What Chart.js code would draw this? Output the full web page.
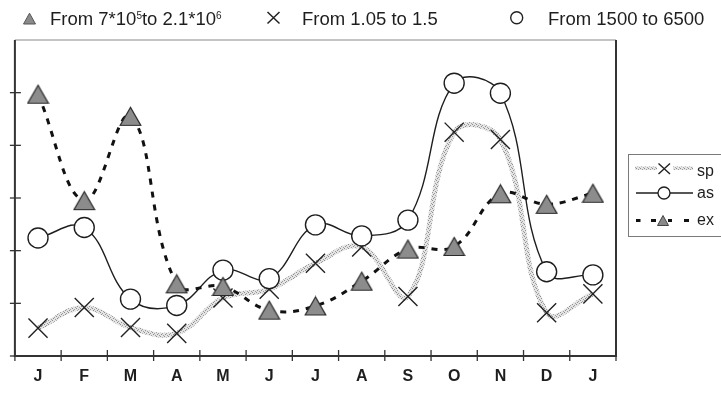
<!DOCTYPE html>
<html>
<head>
<meta charset="utf-8">
<script src="https://cdn.jsdelivr.net/npm/chart.js@4.4.1/dist/chart.umd.min.js"></script>
<style>
  html, body { margin: 0; padding: 0; background: #fff; }
  #wrap { position: relative; width: 721px; height: 396px; overflow: hidden;
          font-family: "Liberation Sans", Arial, sans-serif; color: #1e1e1e; }
  #chart { position: absolute; left: 0; top: 0; }
  #marks { position: absolute; left: 0; top: 0; pointer-events: none; }
  .key { position: absolute; top: 9px; height: 20px; line-height: 20px; font-size: 18.5px; white-space: nowrap; }
  .key sup { font-size: 10px; vertical-align: 6px; line-height: 0; }
  #side { position: absolute; left: 628px; top: 154px; width: 96px; height: 83px;
          border: 1.5px solid #7a7a7a; box-sizing: border-box; }
  .lab { position: absolute; left: 697px; font-size: 16px; line-height: 18px; white-space: nowrap; }
</style>
</head>
<body>
<div id="wrap">
  <canvas id="chart" width="721" height="396"></canvas>

  <!-- range key above the plot -->
  <div class="key" style="left:50px">From 7*10<sup>5</sup>to 2.1*10<sup>6</sup></div>
  <div class="key" style="left:302px">From 1.05 to 1.5</div>
  <div class="key" style="left:548px">From 1500 to 6500</div>

  <!-- series key on the right -->
  <div id="side"></div>
  <div class="lab" style="top:161.5px">sp</div>
  <div class="lab" style="top:183.5px">as</div>
  <div class="lab" style="top:210.5px">ex</div>

  <svg id="marks" width="721" height="396">
    <defs>
      <pattern id="hatch" width="4" height="4" patternUnits="userSpaceOnUse">
        <rect width="4" height="4" fill="#e4e4e4"/>
        <rect x="0" y="0" width="1" height="1" fill="#8f8f8f"/>
        <rect x="2" y="1" width="1" height="1" fill="#9f9f9f"/>
        <rect x="1" y="2" width="1" height="1" fill="#8f8f8f"/>
        <rect x="3" y="3" width="1" height="1" fill="#a5a5a5"/>
      </pattern>
    </defs>
    <!-- top key symbols -->
    <polygon points="29.5,13.2 23.5,24 35.5,24" fill="#8a8a8a" stroke="#555" stroke-width="1"/>
    <path d="M267.5,12 L279.5,23.5 M279.5,12 L267.5,23.5" stroke="#222" stroke-width="1.5" fill="none"/>
    <circle cx="516.7" cy="17.8" r="6" fill="#fff" stroke="#222" stroke-width="1.4"/>

    <!-- right key: sp -->
    <rect x="635" y="166.5" width="22" height="3.5" fill="url(#hatch)"/>
    <path d="M658.5,163.5 L670,174 M670,163.5 L658.5,174" stroke="#222" stroke-width="1.4" fill="none"/>
    <rect x="673" y="166.5" width="20" height="3.5" fill="url(#hatch)"/>
    <!-- right key: as -->
    <line x1="636" y1="193" x2="693" y2="193" stroke="#1e1e1e" stroke-width="1.3"/>
    <circle cx="664" cy="193" r="6" fill="#fff" stroke="#1e1e1e" stroke-width="1.3"/>
    <!-- right key: ex -->
    <g stroke="#111" stroke-width="3">
      <line x1="636" y1="220.5" x2="640.5" y2="220.5"/>
      <line x1="651" y1="220.5" x2="656" y2="220.5"/>
      <line x1="668" y1="220.5" x2="672" y2="220.5"/>
      <line x1="684" y1="220.5" x2="689" y2="220.5"/>
    </g>
    <polygon points="663,215.5 657.5,225.5 668.5,225.5" fill="#8a8a8a" stroke="#444" stroke-width="1"/>
  </svg>
</div>

<script>
// Month axis and the three monthly series (relative units, 0 to 6)
const months = ['J', 'F', 'M', 'A', 'M', 'J', 'J', 'A', 'S', 'O', 'N', 'D', 'J'];
const spValues = [0.53, 0.92, 0.54, 0.43, 1.10, 1.27, 1.76, 2.07, 1.13, 4.25, 4.11, 0.82, 1.18];
const asValues = [2.24, 2.44, 1.08, 0.96, 1.63, 1.47, 2.49, 2.28, 2.58, 5.18, 4.99, 1.60, 1.54];
const exValues = [4.97, 2.95, 4.55, 1.37, 1.32, 0.87, 0.95, 1.42, 2.03, 2.08, 3.08, 2.88, 3.09];
const yTicks = [0, 1, 2, 3, 4, 5, 6];

// grey speckled stroke used for the sp curve
function makeHatch(ctx) {
  const c = document.createElement('canvas');
  c.width = 4; c.height = 4;
  const g = c.getContext('2d');
  g.fillStyle = '#e4e4e4'; g.fillRect(0, 0, 4, 4);
  g.fillStyle = '#8f8f8f'; g.fillRect(0, 0, 1, 1); g.fillRect(1, 2, 1, 1);
  g.fillStyle = '#a0a0a0'; g.fillRect(2, 1, 1, 1); g.fillRect(3, 3, 1, 1);
  return ctx.createPattern(c, 'repeat');
}

// filled triangle marker, centred on its bounding box
function makeTriangle() {
  const c = document.createElement('canvas');
  c.width = 23; c.height = 21;
  const g = c.getContext('2d');
  g.beginPath();
  g.moveTo(11.5, 1.5); g.lineTo(1.2, 19.5); g.lineTo(21.8, 19.5); g.closePath();
  g.fillStyle = '#8c8c8c'; g.fill();
  g.strokeStyle = '#2a2a2a'; g.lineWidth = 1.2; g.stroke();
  return c;
}

// plot frame plus tick marks that cross the axes
const frame = {
  id: 'frame',
  beforeDatasetsDraw(chart) {
    const { ctx, chartArea: a, scales: { x, y } } = chart;
    const seg = (x1, y1, x2, y2) => { ctx.beginPath(); ctx.moveTo(x1, y1); ctx.lineTo(x2, y2); ctx.stroke(); };
    ctx.save();
    ctx.lineCap = 'butt';
    ctx.strokeStyle = '#8a8a8a'; ctx.lineWidth = 1.2;
    seg(a.left, a.top, a.right, a.top);
    ctx.strokeStyle = '#333'; ctx.lineWidth = 2;
    seg(a.left, a.top, a.left, a.bottom + 1);
    seg(a.left - 1, a.bottom, a.right + 1, a.bottom);
    seg(a.right, a.top, a.right, a.bottom);
    ctx.lineWidth = 1.3;
    yTicks.slice(0, -1).forEach(v => {
      const py = y.getPixelForValue(v);
      seg(a.left - 5, py, a.left + 6, py);
    });
    for (let i = 0; i <= months.length; i++) {
      const px = x.getPixelForValue(i - 0.5);
      seg(px, a.bottom - 6, px, a.bottom + 5);
    }
    ctx.restore();
  }
};

const canvas = document.getElementById('chart');
const ctx = canvas.getContext('2d');

new Chart(ctx, {
  type: 'line',
  data: {
    labels: months,
    datasets: [
      {
        label: 'ex', data: exValues, order: 0,
        borderColor: '#111', borderWidth: 3, borderDash: [6, 7], borderCapStyle: 'butt',
        tension: 0.4, fill: false,
        pointStyle: makeTriangle(), pointRadius: 11
      },
      {
        label: 'as', data: asValues, order: 1,
        borderColor: '#1e1e1e', borderWidth: 1.4, tension: 0.4, fill: false,
        pointStyle: 'circle', pointRadius: 10,
        pointBackgroundColor: '#fff', pointBorderColor: '#1e1e1e', pointBorderWidth: 1.4
      },
      {
        label: 'sp', data: spValues, order: 2,
        borderColor: makeHatch(ctx), borderWidth: 5, tension: 0.4, fill: false,
        pointStyle: 'crossRot', pointRadius: 13.5,
        pointBorderColor: '#222', pointBorderWidth: 1.4
      }
    ]
  },
  options: {
    responsive: false,
    animation: false,
    devicePixelRatio: 1,
    events: [],
    layout: { padding: { left: 0, top: 40, right: 105, bottom: 0 } },
    plugins: { legend: { display: false }, tooltip: { enabled: false } },
    scales: {
      x: {
        offset: true,
        grid: { display: false, drawTicks: false },
        border: { display: false },
        ticks: {
          color: '#1e1e1e', padding: 11, maxRotation: 0, autoSkip: false,
          font: { family: '"Liberation Sans", Arial, sans-serif', size: 16, weight: 'bold' }
        },
        afterFit(s) { s.height = 40; }
      },
      y: {
        min: 0, max: 6,
        grid: { display: false, drawTicks: false },
        border: { display: false },
        ticks: { display: false, stepSize: 1 },
        afterFit(s) { s.width = 14; }
      }
    }
  },
  plugins: [frame]
});
</script>
</body>
</html>
